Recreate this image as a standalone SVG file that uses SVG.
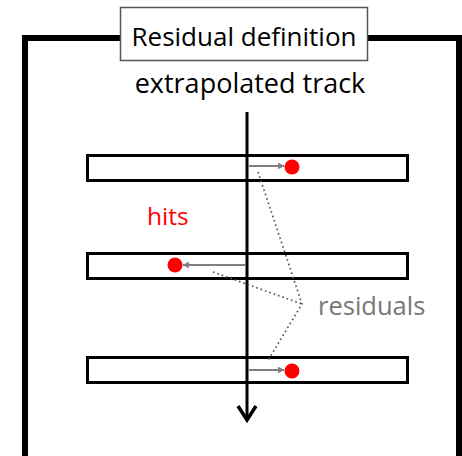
<svg xmlns="http://www.w3.org/2000/svg" width="462" height="456" viewBox="0 0 462 456">
  <style>
    .frame { fill: none; stroke: #000; stroke-width: 6; }
    .strip { fill: #fff; stroke: #000; stroke-width: 3; }
    .hit { fill: #ff0000; }
    .resid { stroke: #808080; stroke-width: 2; fill: none; }
    .lead { stroke: #555; stroke-width: 1.7; stroke-dasharray: 1.6 3; fill: none; }
    .lbl { font-family: "Open Sans", "Lato", "Liberation Sans", sans-serif; font-weight: 500; }
  </style>
  <defs>
    <marker id="gray-head" viewBox="0 0 10 10" refX="9" refY="5" markerWidth="7" markerHeight="7" orient="auto-start-reverse" markerUnits="userSpaceOnUse">
      <path d="M0,0 L10,5 L0,10 z" fill="#808080"/>
    </marker>
  </defs>
  <rect width="462" height="456" fill="#fff"/>

  <!-- outer frame -->
  <rect class="frame" x="25" y="38" width="434" height="430"/>

  <!-- title -->
  <g id="title">
    <rect x="120.5" y="7.5" width="247" height="53" fill="#fff" stroke="#555" stroke-width="1.5"/>
    <text class="lbl" x="244" y="46" font-size="26" text-anchor="middle" fill="#000">Residual definition</text>
  </g>

  <!-- detector strips -->
  <g id="strip-1"><rect class="strip" x="87.5" y="155.5" width="320" height="25"/></g>
  <g id="strip-2"><rect class="strip" x="87.5" y="253.5" width="320" height="25"/></g>
  <g id="strip-3"><rect class="strip" x="87.5" y="357.5" width="320" height="25"/></g>

  <!-- extrapolated track -->
  <g id="track">
    <text class="lbl" x="250" y="93" font-size="27" text-anchor="middle" fill="#000">extrapolated track</text>
    <line x1="247" y1="112" x2="247" y2="420" stroke="#000" stroke-width="3"/>
    <polyline points="238,406 247,420 256,406" fill="none" stroke="#000" stroke-width="3.5" stroke-linejoin="miter"/>
  </g>

  <!-- hits -->
  <g id="hits">
    <circle class="hit" cx="292" cy="167" r="7.5"/>
    <circle class="hit" cx="175" cy="265" r="7.5"/>
    <circle class="hit" cx="292" cy="371" r="7.5"/>
    <text class="lbl" x="147" y="225" font-size="24.5" fill="#ff0000">hits</text>
  </g>

  <!-- residuals -->
  <g id="connectors">
    <line class="resid" x1="248" y1="166" x2="284" y2="166" marker-end="url(#gray-head)"/>
    <line class="resid" x1="246" y1="265" x2="183" y2="265" marker-end="url(#gray-head)"/>
    <line class="resid" x1="249" y1="370" x2="284" y2="370" marker-end="url(#gray-head)"/>
    <polyline class="lead" points="258,172 302,304 267,362"/>
    <line class="lead" x1="213" y1="272" x2="302" y2="304"/>
  </g>
  <g id="residuals-label">
    <text class="lbl" x="318" y="315" font-size="25.5" fill="#777">residuals</text>
  </g>
</svg>
